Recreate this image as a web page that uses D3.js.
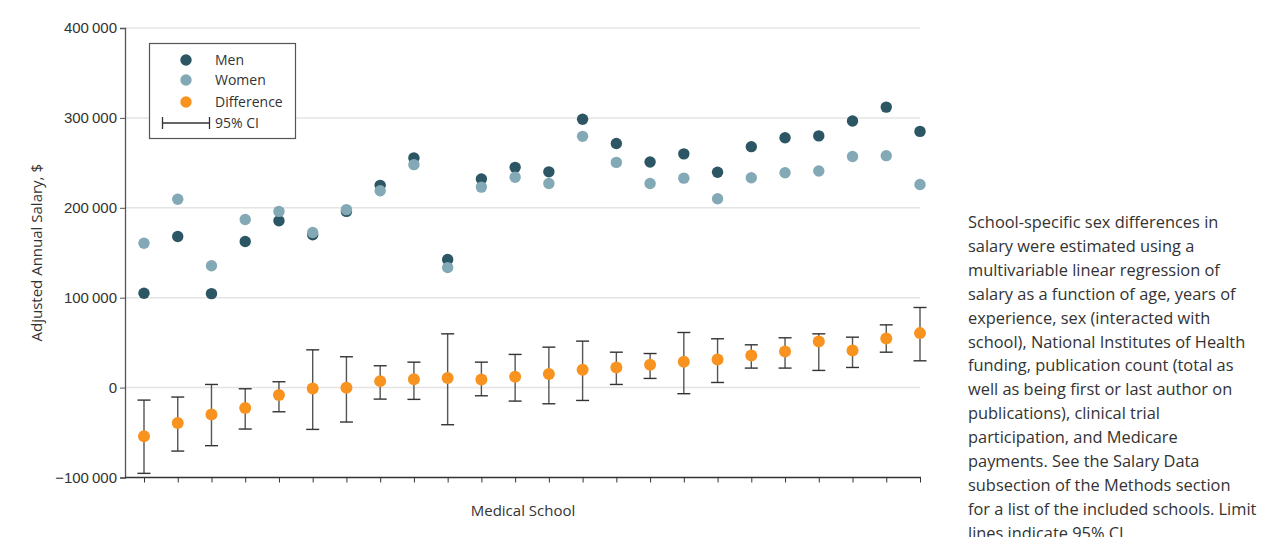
<!DOCTYPE html>
<html>
<head>
<meta charset="utf-8">
<script src="https://cdn.jsdelivr.net/npm/d3@7"></script>
<style>
  body { margin: 0; background: #fff; }
  svg { font-family: "Open Sans", Lato, sans-serif; }
  .tick text { fill: #333; }
</style>
</head>
<body>
<div id="chart"></div>
<script>
var width = 1261;
var height = 537;

// data, one entry per medical school
var schools = d3.range(1, 25);
var men = [105000, 168000, 104500, 162500, 185500, 170000, 196000, 225000, 255500, 142500,
           232000, 245000, 240000, 298500, 271500, 251000, 260000, 239500, 268000, 278000,
           280000, 296500, 312000, 285000];
var women = [160500, 209500, 135500, 187000, 196000, 172500, 198000, 219000, 248000, 133500,
             223000, 234000, 227000, 279500, 250500, 227000, 233000, 210000, 233500, 239000,
             241000, 257000, 258000, 226000];
var diff = [-54000, -39500, -30000, -22800, -8300, -1000, -200, 7200, 9400, 10600,
            9100, 12000, 15000, 19800, 22400, 25400, 28700, 31300, 35700, 40200,
            51300, 41300, 54600, 60600];
var ciLow = [-95400, -70600, -64600, -46100, -26900, -46500, -38300, -12800, -13100, -41300,
             -9100, -15000, -18000, -14300, 3500, 10200, -6800, 5700, 21700, 21700,
             19100, 22400, 39400, 29800];
var ciHigh = [-13900, -10500, 3500, -1300, 6500, 42000, 34300, 24300, 28300, 59800,
              28300, 36900, 45000, 51700, 39400, 37900, 61300, 54300, 47600, 55400,
              59800, 56100, 69800, 89100];
var yTicks = [-100000, 0, 100000, 200000, 300000, 400000];

var noteLines = [
  "School-specific sex differences in",
  "salary were estimated using a",
  "multivariable linear regression of",
  "salary as a function of age, years of",
  "experience, sex (interacted with",
  "school), National Institutes of Health",
  "funding, publication count (total as",
  "well as being first or last author on",
  "publications), clinical trial",
  "participation, and Medicare",
  "payments. See the Salary Data",
  "subsection of the Methods section",
  "for a list of the included schools. Limit",
  "lines indicate 95% CI."
];

var colMen = "#2c5664";
var colWomen = "#84a9b6";
var colDiff = "#f7931e";

var svg = d3.select("#chart").append("svg")
  .attr("width", width)
  .attr("height", height);

var x = d3.scalePoint().domain(schools).range([144, 920]);
var y = d3.scaleLinear().domain([-100000, 400000]).range([477.5, 28]);

var fmt = function(d) {
  return d3.format(",")(d).replace(/,/g, "\u2009").replace("-", "\u2212");
};

// gridlines
svg.append("g")
  .selectAll("line")
  .data(yTicks.filter(function(d) { return d > -100000; }))
  .enter()
  .append("line")
  .attr("x1", 125)
  .attr("x2", 920)
  .attr("y1", function(d) { return y(d); })
  .attr("y2", function(d) { return y(d); })
  .attr("stroke", "#e4e4e4")
  .attr("stroke-width", 1.5);

// y axis
var yAxis = svg.append("g")
  .attr("transform", "translate(125,0)")
  .call(d3.axisLeft(y).tickValues(yTicks).tickSize(5).tickFormat(fmt));
yAxis.select(".domain").attr("stroke", "#555").attr("stroke-width", 1.3);
yAxis.selectAll(".tick line").attr("stroke", "#555");
yAxis.selectAll(".tick text").attr("font-size", 15).attr("x", -8);

// x axis
var xAxis = svg.append("g")
  .attr("transform", "translate(0," + y(-100000) + ")")
  .call(d3.axisBottom(x).tickSize(5).tickFormat(""));
xAxis.select(".domain").attr("d", "M125,0H921").attr("stroke", "#333").attr("stroke-width", 1.3);
xAxis.selectAll(".tick line").attr("stroke", "#333");

// axis titles
svg.append("text")
  .attr("x", 523)
  .attr("y", 516)
  .attr("text-anchor", "middle")
  .attr("font-size", 15)
  .attr("fill", "#333")
  .text("Medical School");

svg.append("text")
  .attr("transform", "translate(42," + (y(-100000) + y(400000)) / 2 + ") rotate(-90)")
  .attr("text-anchor", "middle")
  .attr("font-size", 15)
  .attr("fill", "#333")
  .text("Adjusted Annual Salary, $");

// men and women dots
svg.append("g")
  .selectAll("circle")
  .data(men)
  .enter()
  .append("circle")
  .attr("cx", function(d, i) { return x(schools[i]); })
  .attr("cy", function(d) { return y(d); })
  .attr("r", 5.7)
  .attr("fill", colMen);

svg.append("g")
  .selectAll("circle")
  .data(women)
  .enter()
  .append("circle")
  .attr("cx", function(d, i) { return x(schools[i]); })
  .attr("cy", function(d) { return y(d); })
  .attr("r", 5.7)
  .attr("fill", colWomen);

// CI bars
var ci = svg.append("g");
schools.forEach(function(s, i) {
  var cx = x(s);
  ci.append("line")
    .attr("x1", cx).attr("x2", cx)
    .attr("y1", y(ciLow[i])).attr("y2", y(ciHigh[i]))
    .attr("stroke", "#555").attr("stroke-width", 1.4);
  [ciLow[i], ciHigh[i]].forEach(function(v) {
    ci.append("line")
      .attr("x1", cx - 6.5).attr("x2", cx + 6.5)
      .attr("y1", y(v)).attr("y2", y(v))
      .attr("stroke", "#333").attr("stroke-width", 1.4);
  });
});

svg.append("g")
  .selectAll("circle")
  .data(diff)
  .enter()
  .append("circle")
  .attr("cx", function(d, i) { return x(schools[i]); })
  .attr("cy", function(d) { return y(d); })
  .attr("r", 6)
  .attr("fill", colDiff);

// legend
var legend = svg.append("g");
legend.append("rect")
  .attr("x", 149.5).attr("y", 43.5)
  .attr("width", 146).attr("height", 95)
  .attr("fill", "#fff")
  .attr("stroke", "#555")
  .attr("stroke-width", 1.2);

var legItems = [["Men", colMen], ["Women", colWomen], ["Difference", colDiff]];
var legY = [60, 80, 102];
legItems.forEach(function(it, i) {
  legend.append("circle")
    .attr("cx", 186).attr("cy", legY[i]).attr("r", 5.7).attr("fill", it[1]);
  legend.append("text")
    .attr("x", 215).attr("y", legY[i] + 5)
    .attr("font-size", 14).attr("fill", "#333")
    .text(it[0]);
});
legend.append("line").attr("x1", 162).attr("x2", 209).attr("y1", 123).attr("y2", 123)
  .attr("stroke", "#333").attr("stroke-width", 1.3);
legend.append("line").attr("x1", 162.5).attr("x2", 162.5).attr("y1", 117).attr("y2", 129)
  .attr("stroke", "#333").attr("stroke-width", 1.3);
legend.append("line").attr("x1", 209.5).attr("x2", 209.5).attr("y1", 117).attr("y2", 129)
  .attr("stroke", "#333").attr("stroke-width", 1.3);
legend.append("text")
  .attr("x", 215).attr("y", 128)
  .attr("font-size", 14).attr("fill", "#333")
  .text("95% CI");

// note on the right
var note = svg.append("text")
  .attr("x", 968)
  .attr("y", 228)
  .attr("font-size", 16.4)
  .attr("fill", "#333");
note.selectAll("tspan")
  .data(noteLines)
  .enter()
  .append("tspan")
  .attr("x", 968)
  .attr("dy", function(d, i) { return i === 0 ? 0 : 23.9; })
  .text(function(d) { return d; });
</script>
</body>
</html>
